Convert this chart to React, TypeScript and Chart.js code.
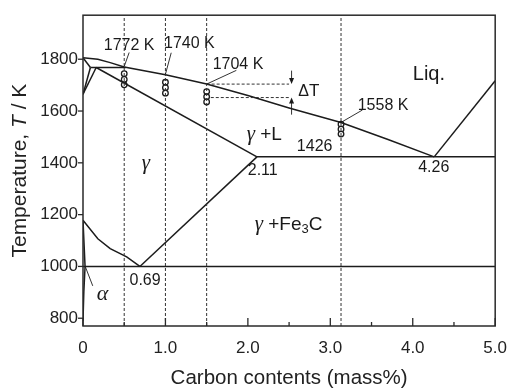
import React, { useEffect, useRef } from 'react';
import { Chart, registerables } from 'chart.js';

Chart.register(...registerables);

// ---------- data ----------
const xTickValues = [0, 1, 2, 3, 4, 5];
const xMinorTickValues = [0.5, 1.5, 2.5, 3.5, 4.5];
const yTickValues = [800, 1000, 1200, 1400, 1600, 1800];

const liquidusC = [0, 0.18, 0.33, 0.5, 1.0, 1.5, 2.0, 2.5, 3.13, 3.7, 4.26];
const liquidusT = [1806, 1800, 1787, 1770, 1740, 1704, 1660, 1612, 1556, 1490, 1423];
const hyperLiquidusC = [4.26, 5.0];
const hyperLiquidusT = [1423, 1717];
const deltaSolidusC = [0, 0.09];
const deltaSolidusT = [1806, 1768];
const peritecticC = [0.09, 0.52];
const peritecticT = [1768, 1768];
const deltaSolvusC = [0, 0.09];
const deltaSolvusT = [1665, 1768];
const gammaDeltaC = [0, 0.16];
const gammaDeltaT = [1665, 1768];
const gammaSolidusC = [0.16, 2.11];
const gammaSolidusT = [1768, 1423];
const eutecticC = [2.11, 5.0];
const eutecticT = [1423, 1423];
const acmC = [0.69, 2.11];
const acmT = [1000, 1423];
const a3C = [0, 0.18, 0.33, 0.53, 0.69];
const a3T = [1178, 1107, 1069, 1037, 1000];
const eutectoidC = [0, 5.0];
const eutectoidT = [1000, 1000];
const alphaC = [0, 0.025, 0.01, 0];
const alphaT = [1178, 1000, 900, 790];

const sampleC = [0.5, 1.0, 1.5, 3.13];
const measuredT05 = [1744, 1722, 1701];
const measuredT10 = [1711, 1690, 1669];
const measuredT15 = [1675, 1655, 1635];
const measuredT313 = [1549, 1530, 1511];

const deltaUpperC = [1.5, 2.5];
const deltaUpperT = [1704, 1704];
const deltaLowerC = [1.55, 2.5];
const deltaLowerT = [1652, 1652];

const X_MIN = 0, X_MAX = 5, Y_MIN = 770, Y_MAX = 1970;

// ---------- helpers ----------
const SANS = "'Liberation Sans', Arial, Helvetica, sans-serif";
const SERIF = "'Liberation Serif', 'DejaVu Serif', serif";
const INK = '#1c1c1c';

const pts = (xs: number[], ys: number[]) => xs.map((x, i) => ({ x, y: ys[i] }));

const lineDs = (xs: number[], ys: number[]) => ({
  data: pts(xs, ys),
  showLine: true,
  borderColor: INK,
  borderWidth: 1.5,
  pointRadius: 0,
  fill: false,
  tension: 0,
});

const dashDs = (xs: number[], ys: number[]) => ({
  data: pts(xs, ys),
  showLine: true,
  borderColor: '#333',
  borderWidth: 1,
  borderDash: [3, 2],
  pointRadius: 0,
  fill: false,
});

const circleDs = (c: number, ts: number[]) => ({
  data: ts.map((t) => ({ x: c, y: t })),
  showLine: false,
  pointRadius: 2.8,
  pointStyle: 'circle',
  pointBackgroundColor: '#fff',
  pointBorderColor: INK,
  pointBorderWidth: 1.3,
});

type Part = { t: string; font: string; dy?: number };

function drawRich(ctx: CanvasRenderingContext2D, parts: Part[], cx: number, cy: number) {
  const widths = parts.map((p) => {
    ctx.font = p.font;
    return ctx.measureText(p.t).width;
  });
  const total = widths.reduce((a, b) => a + b, 0);
  let x = cx - total / 2;
  ctx.textAlign = 'left';
  ctx.textBaseline = 'middle';
  parts.forEach((p, i) => {
    ctx.font = p.font;
    ctx.fillText(p.t, x, cy + (p.dy || 0));
    x += widths[i];
  });
}

const num = `16px ${SANS}`;
const big = `19px ${SANS}`;
const greek = `italic 21px ${SERIF}`;

const textLabels: { parts: Part[]; x: number; y: number }[] = [
  { parts: [{ t: '1772 K', font: num }], x: 0.56, y: 1854 },
  { parts: [{ t: '1740 K', font: num }], x: 1.29, y: 1860 },
  { parts: [{ t: '1704 K', font: num }], x: 1.88, y: 1778 },
  { parts: [{ t: '1558 K', font: num }], x: 3.64, y: 1620 },
  { parts: [{ t: '1426', font: num }], x: 2.81, y: 1463 },
  { parts: [{ t: '2.11', font: num }], x: 2.18, y: 1371 },
  { parts: [{ t: '4.26', font: num }], x: 4.255, y: 1381 },
  { parts: [{ t: '0.69', font: num }], x: 0.753, y: 947 },
  { parts: [{ t: 'Liq.', font: `20px ${SANS}` }], x: 4.196, y: 1741 },
  { parts: [{ t: '\u0394', font: `16px ${SANS}` }, { t: 'T', font: `17px ${SANS}` }], x: 2.739, y: 1676 },
  { parts: [{ t: '\u03b3', font: greek }, { t: ' +L', font: big }], x: 2.199, y: 1508 },
  { parts: [{ t: '\u03b3', font: greek }], x: 0.762, y: 1397 },
  {
    parts: [
      { t: '\u03b3', font: greek },
      { t: ' +Fe', font: big },
      { t: '3', font: `13px ${SANS}`, dy: 5 },
      { t: 'C', font: big },
    ],
    x: 2.494,
    y: 1162,
  },
  { parts: [{ t: '\u03b1', font: `italic 22px ${SERIF}` }], x: 0.236, y: 894 },
];

const leaders = [
  { x1: 0.5, y1: 1772, x2: 0.56, y2: 1826 },
  { x1: 1.0, y1: 1742, x2: 1.07, y2: 1825 },
  { x1: 1.5, y1: 1704, x2: 1.86, y2: 1757 },
  { x1: 3.13, y1: 1556, x2: 3.39, y2: 1604 },
  { x1: 0.027, y1: 1000, x2: 0.118, y2: 925 },
];

const arrows = [
  { x: 2.53, from: 1756, to: 1704 },
  { x: 2.53, from: 1586, to: 1652 },
];

const decorPlugin = {
  id: 'decor',
  afterDatasetsDraw(chart: any) {
    const { ctx, chartArea: a, scales } = chart;
    const xs = scales.x, ys = scales.y;
    const px = (v: number) => xs.getPixelForValue(v);
    const py = (v: number) => ys.getPixelForValue(v);
    ctx.save();
    ctx.strokeStyle = INK;
    ctx.fillStyle = '#1a1a1a';

    // leaders
    ctx.lineWidth = 0.9;
    leaders.forEach((l) => {
      ctx.beginPath();
      ctx.moveTo(px(l.x1), py(l.y1));
      ctx.lineTo(px(l.x2), py(l.y2));
      ctx.stroke();
    });

    // arrows
    arrows.forEach((ar) => {
      const x = px(ar.x);
      const y0 = py(ar.from), y1 = py(ar.to);
      const dir = y1 > y0 ? 1 : -1;
      ctx.lineWidth = 0.9;
      ctx.beginPath();
      ctx.moveTo(x, y0);
      ctx.lineTo(x, y1 - dir * 4);
      ctx.stroke();
      ctx.beginPath();
      ctx.moveTo(x, y1);
      ctx.lineTo(x - 2.5, y1 - dir * 6);
      ctx.lineTo(x + 2.5, y1 - dir * 6);
      ctx.closePath();
      ctx.fill();
    });

    // texts
    textLabels.forEach((lb) => drawRich(ctx, lb.parts, px(lb.x), py(lb.y)));

    // frame
    ctx.lineWidth = 1.5;
    ctx.strokeStyle = '#2a2a2a';
    ctx.strokeRect(a.left, a.top, a.right - a.left, a.bottom - a.top);

    // x inside ticks
    ctx.lineWidth = 1.3;
    xTickValues.forEach((v) => {
      const x = px(v);
      ctx.beginPath();
      ctx.moveTo(x, a.bottom);
      ctx.lineTo(x, a.bottom - 8);
      ctx.stroke();
    });
    xMinorTickValues.forEach((v) => {
      const x = px(v);
      ctx.beginPath();
      ctx.moveTo(x, a.bottom);
      ctx.lineTo(x, a.bottom - 4);
      ctx.stroke();
    });
    // y outside ticks
    yTickValues.forEach((v) => {
      const y = py(v);
      ctx.beginPath();
      ctx.moveTo(a.left - 5, y);
      ctx.lineTo(a.left, y);
      ctx.stroke();
    });

    // axis titles
    ctx.fillStyle = '#222';
    ctx.textAlign = 'center';
    ctx.textBaseline = 'alphabetic';
    ctx.font = `20.5px ${SANS}`;
    ctx.fillText('Carbon contents (mass%)', (a.left + a.right) / 2, 383.5);

    ctx.save();
    ctx.translate(26, (a.top + a.bottom) / 2);
    ctx.rotate(-Math.PI / 2);
    const f = `21px ${SANS}`;
    const parts: Part[] = [
      { t: 'Temperature, ', font: f },
      { t: 'T', font: `italic 21px ${SANS}` },
      { t: ' / K', font: f },
    ];
    const widths = parts.map((p) => {
      ctx.font = p.font;
      return ctx.measureText(p.t).width;
    });
    let x = -widths.reduce((s, w) => s + w, 0) / 2;
    ctx.textAlign = 'left';
    ctx.textBaseline = 'alphabetic';
    parts.forEach((p, i) => {
      ctx.font = p.font;
      ctx.fillText(p.t, x, 0);
      x += widths[i];
    });
    ctx.restore();

    ctx.restore();
  },
};

export default function App() {
  const ref = useRef<HTMLCanvasElement>(null);
  useEffect(() => {
    document.body.style.margin = '0';
    if (!ref.current) return;
    const datasets: any[] = [
      ...sampleC.map((c) => dashDs([c, c], [Y_MIN, Y_MAX])),
      dashDs(deltaUpperC, deltaUpperT),
      dashDs(deltaLowerC, deltaLowerT),
      lineDs(liquidusC, liquidusT),
      lineDs(hyperLiquidusC, hyperLiquidusT),
      lineDs(deltaSolidusC, deltaSolidusT),
      lineDs(peritecticC, peritecticT),
      lineDs(deltaSolvusC, deltaSolvusT),
      lineDs(gammaDeltaC, gammaDeltaT),
      lineDs(gammaSolidusC, gammaSolidusT),
      lineDs(eutecticC, eutecticT),
      lineDs(acmC, acmT),
      lineDs(a3C, a3T),
      lineDs(eutectoidC, eutectoidT),
      lineDs(alphaC, alphaT),
      circleDs(sampleC[0], measuredT05),
      circleDs(sampleC[1], measuredT10),
      circleDs(sampleC[2], measuredT15),
      circleDs(sampleC[3], measuredT313),
    ];
    const chart = new Chart(ref.current, {
      type: 'scatter',
      data: { datasets },
      options: {
        animation: false,
        responsive: false,
        devicePixelRatio: 1,
        layout: { padding: { top: 8, right: 13, left: 0, bottom: 0 } },
        plugins: { legend: { display: false }, tooltip: { enabled: false } },
        events: [],
        scales: {
          x: {
            type: 'linear',
            min: X_MIN,
            max: X_MAX,
            afterBuildTicks: (s: any) => {
              s.ticks = xTickValues.map((v) => ({ value: v }));
            },
            ticks: {
              callback: (v: any) => (Number(v) === 0 ? '0' : Number(v).toFixed(1)),
              font: { size: 17, family: SANS },
              color: '#222',
              padding: 12,
              maxRotation: 0,
              autoSkip: false,
            },
            grid: { display: false, drawTicks: false },
            border: { display: false },
            afterFit: (s: any) => {
              s.height = 63;
            },
          },
          y: {
            type: 'linear',
            min: Y_MIN,
            max: Y_MAX,
            afterBuildTicks: (s: any) => {
              s.ticks = yTickValues.map((v) => ({ value: v }));
            },
            ticks: {
              callback: (v: any) => String(v),
              font: { size: 17, family: SANS },
              color: '#222',
              padding: 5,
              autoSkip: false,
            },
            grid: { display: false, drawTicks: false },
            border: { display: false },
            afterFit: (s: any) => {
              s.width = 83;
            },
          },
        },
      } as any,
      plugins: [decorPlugin],
    });
    return () => chart.destroy();
  }, []);
  return <canvas ref={ref} width={519} height={389} style={{ display: 'block' }} />;
}
